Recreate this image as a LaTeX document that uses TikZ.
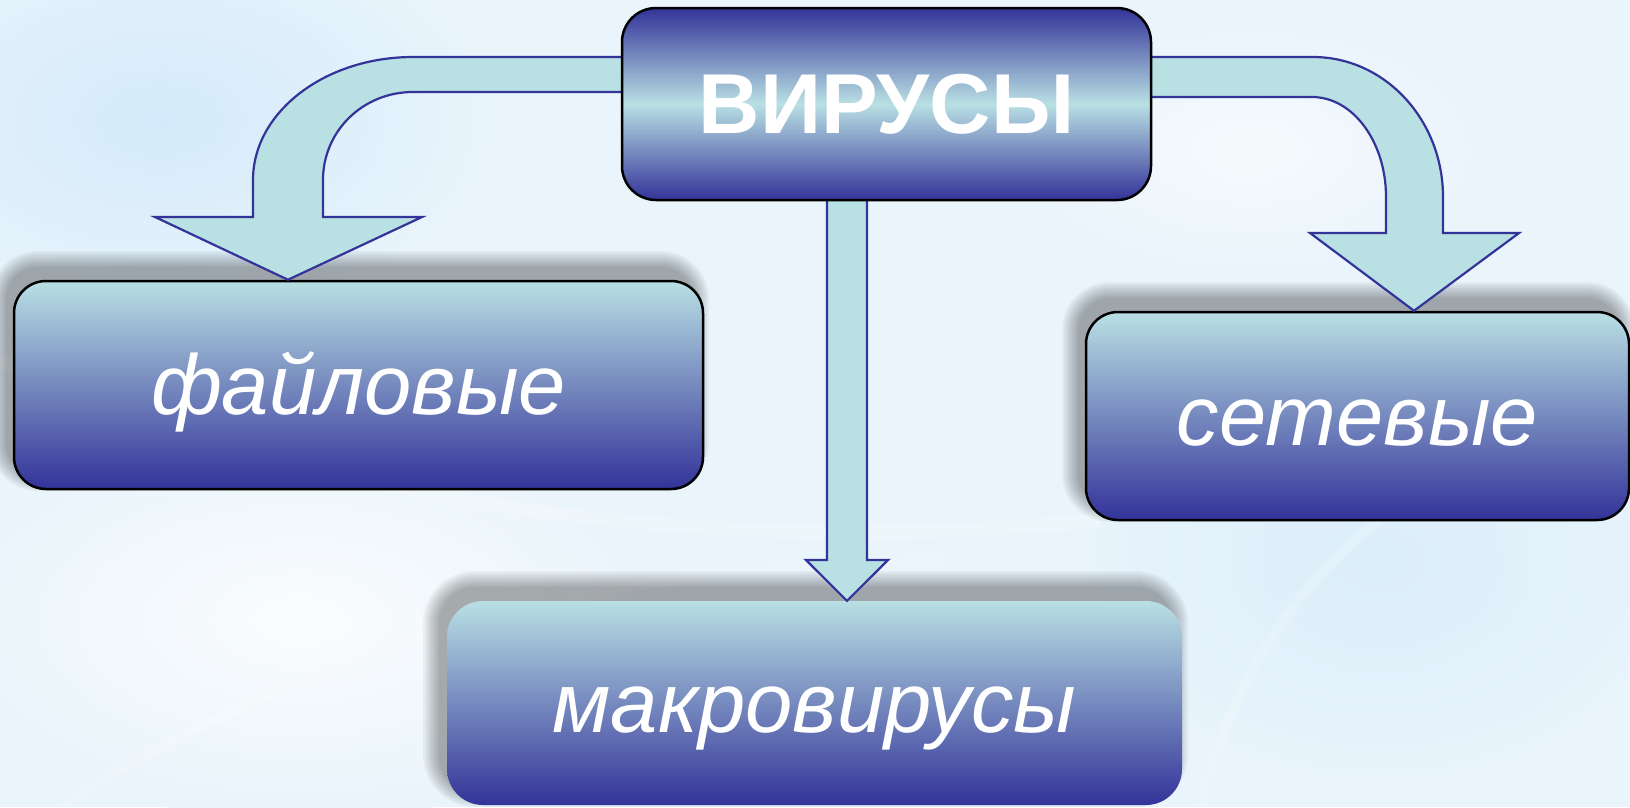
\documentclass[tikz,border=0pt]{standalone}
\usepackage{fontspec}
\setmainfont{Liberation Sans}
\definecolor{dkblue}{RGB}{51,51,153}
\definecolor{ltcyan}{RGB}{185,224,228}
\definecolor{arrfill}{RGB}{185,224,226}
\definecolor{bgbase}{RGB}{233,244,251}
\definecolor{bgblue}{RGB}{210,234,250}
\newcommand\softshadow[5]{%
  \foreach \e in {0,2,...,16}{%
    \pgfmathsetmacro\rr{#5+\e}%
    \fill[black,opacity=0.04,rounded corners=\rr pt] ({#1-8-\e},{#2-14-\e}) rectangle ({#3-10+\e},{#4-14+\e});
  }}
\tikzset{
  box/.style={rounded corners=32pt, inner sep=0pt, text=white,
    text height=77pt, text depth=18pt,
    font=\fontsize{85pt}{100pt}\selectfont\itshape,
    top color=ltcyan, bottom color=dkblue},
  boxline/.style={draw=black, line width=2.5pt},
  blockarrow/.style={fill=arrfill, draw=dkblue, line width=2.2pt, line join=miter}
}
\begin{document}
\begin{tikzpicture}[x=1pt,y=-1pt]
\useasboundingbox (0,0) rectangle (1630,807);
% background
\fill[bgbase] (0,0) rectangle (1630,807);
\shade[inner color=bgblue, outer color=bgbase, opacity=0.9] (160,120) ellipse (330 and 200);
\shade[inner color=bgblue, outer color=bgbase, opacity=0.6] (1380,560) ellipse (300 and 220);
\shade[inner color=white, outer color=bgbase, opacity=0.8] (300,620) ellipse (380 and 200);
\shade[inner color=white, outer color=bgbase, opacity=0.6] (1250,150) ellipse (260 and 140);
\draw[white, opacity=0.2, line width=14pt] (0,360) .. controls (300,500) and (700,560) .. (1100,520);
\draw[white, opacity=0.18, line width=10pt] (1200,807) .. controls (1250,600) and (1400,450) .. (1630,420);
\draw[white, opacity=0.18, line width=10pt] (60,807) .. controls (300,650) and (600,560) .. (950,560);
% shadows
\softshadow{14}{281}{703}{489}{32}
\softshadow{1086}{312}{1629}{520}{32}
\softshadow{447}{601}{1182}{805}{36}
% boxes
\node[box, boxline, minimum width=689pt, minimum height=208pt] (file) at (358.5,385) {файловые};
\node[box, boxline, minimum width=543pt, minimum height=208pt] (net) at (1357.5,416) {сетевые};
\node[box, rounded corners=36pt, minimum width=735pt, minimum height=204pt] (macro) at (814.5,703) {макровирусы};
% arrows
\draw[blockarrow] (640,57) -- (413,57) .. controls (325,57) and (253,112) .. (253,180) -- (253,217) -- (155,217) -- (288,0 |- file.north) -- (422,217) -- (323,217) -- (323,180) .. controls (323,131) and (363,92) .. (413,92) -- (640,92) -- cycle;
\draw[blockarrow] (1130,57) -- (1313,57) .. controls (1385,57) and (1443,120) .. (1443,197) -- (1443,233) -- (1519,233) -- (1414,0 |- net.north) -- (1310,233) -- (1386,233) -- (1386,197) .. controls (1386,142) and (1353,97) .. (1312,97) -- (1130,97) -- cycle;
\draw[blockarrow] (827,190) -- (827,560) -- (806,560) -- (847,0 |- macro.north) -- (888,560) -- (867,560) -- (867,190) -- cycle;
% top box
\node[box, boxline, rounded corners=34pt, minimum width=529pt, minimum height=192pt,
  top color=dkblue, bottom color=dkblue, middle color=ltcyan,
  font=\fontsize{85pt}{100pt}\selectfont\bfseries] (top) at (886.5,104) {ВИРУСЫ};
\end{tikzpicture}
\end{document}
